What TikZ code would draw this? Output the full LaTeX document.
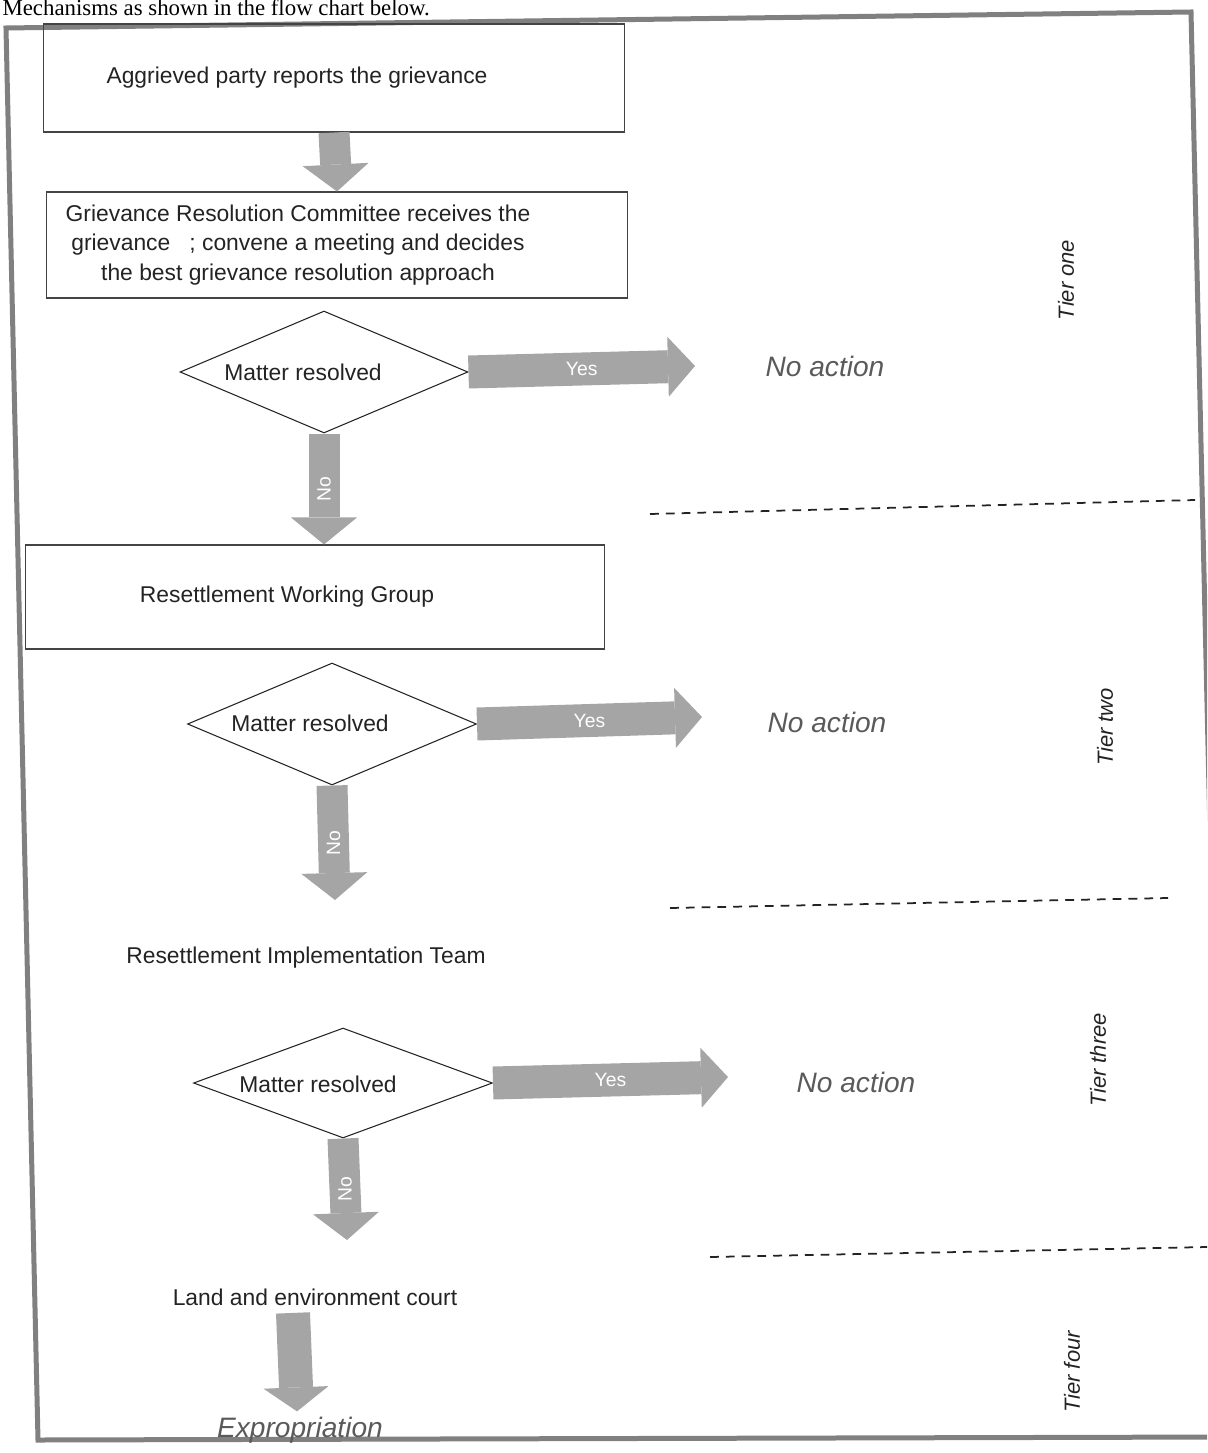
\documentclass[tikz,border=0pt]{standalone}
\usepackage{fontspec}
\setmainfont{Liberation Sans}
\newfontfamily\headfont{Liberation Serif}
\usetikzlibrary{shapes.geometric}
\usetikzlibrary{arrows.meta}
\usetikzlibrary{positioning}
\definecolor{framegray}{RGB}{128,128,128}
\definecolor{arrowgray}{RGB}{165,165,165}
\definecolor{inkgray}{RGB}{35,35,35}
\definecolor{softgray}{RGB}{90,90,90}

\begin{document}
\begin{tikzpicture}[x=0.02cm,y=-0.02cm,semithick]
 \tikzstyle{box node}=[rectangle,draw=inkgray!85,line width=0.6pt,inner sep=0]
 \tikzstyle{decision node}=[diamond,draw=inkgray,line width=0.6pt,inner sep=0]
 \tikzstyle{text node}=[inner sep=0,text=inkgray,font=\fontsize{13}{17}\selectfont]
 \tikzstyle{result node}=[inner sep=0,text=softgray,font=\fontsize{16}{19}\selectfont\itshape]
 \tikzstyle{tier node}=[inner sep=0,rotate=90,text=inkgray,font=\fontsize{12.5}{15}\selectfont\itshape]
 \tikzset{
 	yes arrow/.style={draw=arrowgray,line width=0.66cm,
 	  -{Triangle[width=1.2cm 0 0,length=0.54cm 0 0,line width=0pt 0 0]}},
 	no arrow/.style={draw=arrowgray,line width=0.62cm,
 	  -{Triangle[width=1.32cm 0 0,length=0.54cm 0 0,line width=0pt 0 0]}},
 	court arrow/.style={draw=arrowgray,line width=0.68cm,
 	  -{Triangle[width=1.3cm 0 0,length=0.48cm 0 0,line width=0pt 0 0]}},
 	yn label/.style={text=white,inner sep=0,font=\fontsize{11}{13}\selectfont},
 	tier line/.style={draw=inkgray,line width=1pt,dash pattern=on 5pt off 4pt},
 	frame line/.style={draw=framegray,line width=0.1cm,line join=miter}
 }

 \useasboundingbox (0,0) rectangle (1207,1453);
 \clip (0,0) rectangle (1207,1453);

 % text above the chart
 \node[anchor=base west,inner sep=0,font=\headfont\fontsize{13}{16}\selectfont] (head) at (2,16)
   {Mechanisms as shown in the flow chart below.};

 % frame
 \draw[frame line] (6,28) -- (1191,12) -- (1224,1437) -- (38,1440) -- cycle;

 % tier one
 \node[box node,minimum width=11.64cm,minimum height=2.16cm] (report) at (334,78) {};
 \node[text node] (reportt) at (297,78) {Aggrieved party reports the grievance};

 \node[box node,minimum width=11.62cm,minimum height=2.12cm] (grc) at (337,245) {};
 \node[text node,align=center] (grct) at (298,245)
   {Grievance Resolution Committee receives the\\
    grievance~~~; convene a meeting and decides\\
    the best grievance resolution approach};

 \node[decision node,minimum width=5.76cm,minimum height=2.44cm] (dec1) at (324,372) {};
 \node[text node] (dec1t) at (303,372) {Matter resolved};
 \coordinate (yes1) at (695,366);
 \node[result node] (none1) at (825,366) {No action};
 \node[tier node] (tier1) at (1066,280) {Tier one};

 % tier two
 \node[box node,minimum width=11.6cm,minimum height=2.08cm] (rwg) at (315,597) {};
 \node[text node] (rwgt) at (287,597) {Resettlement Working Group};

 \node[decision node,minimum width=5.78cm,minimum height=2.44cm] (dec2) at (332,724) {};
 \node[text node] (dec2t) at (310,723) {Matter resolved};
 \coordinate (yes2) at (702,717);
 \coordinate (no2) at (335,900);
 \node[result node] (none2) at (827,722) {No action};
 \node[tier node] (tier2) at (1105,727) {Tier two};

 % tier three
 \node[text node] (rit) at (306,958) {Resettlement Implementation Team};

 \node[decision node,minimum width=5.98cm,minimum height=2.2cm] (dec3) at (343,1083) {};
 \node[text node] (dec3t) at (318,1084) {Matter resolved};
 \coordinate (yes3) at (728,1077);
 \coordinate (no3) at (347,1240);
 \node[result node] (none3) at (856,1082) {No action};
 \node[tier node] (tier3) at (1098,1060) {Tier three};

 % tier four
 \node[text node] (lec) at (315,1297) {Land and environment court};
 \node[result node] (expr) at (300,1430) {Expropriation};
 \node[tier node] (tier4) at (1072,1372) {Tier four};

 % separators
 \draw[tier line] (650,514) -- (1195,500);
 \draw[tier line] (670,908) -- (1168,898);
 \draw[tier line] (710,1257) -- (1207,1247);

 % arrows
 \draw[no arrow] (report.south) -- (grc.north);
 \draw[yes arrow] (dec1.east) -- (yes1) node[midway,yn label] {Yes};
 \draw[no arrow] (dec1.south) -- (dec1.south |- rwg.north) node[midway,yn label,rotate=90] {No};
 \draw[yes arrow] (dec2.east) -- (yes2) node[midway,yn label] {Yes};
 \draw[no arrow] (dec2.south) -- (no2) node[midway,yn label,rotate=90] {No};
 \draw[yes arrow] (dec3.east) -- (yes3) node[midway,yn label] {Yes};
 \draw[no arrow] (dec3.south) -- (no3) node[midway,yn label,rotate=90] {No};
 \draw[court arrow] ([xshift=-0.44cm,yshift=-0.14cm]lec.south) -- ([xshift=-0.06cm,yshift=0.1cm]expr.north);
\end{tikzpicture}
\end{document}
